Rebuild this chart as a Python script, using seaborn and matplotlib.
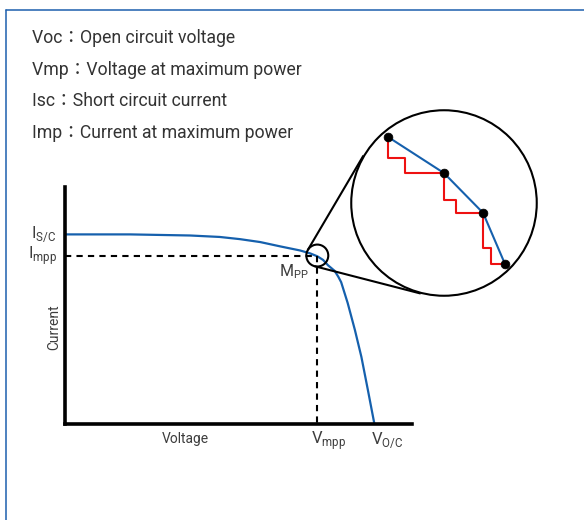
import numpy as np
import matplotlib
matplotlib.use('Agg')
import matplotlib.pyplot as plt
import seaborn as sns
from matplotlib.patches import Circle

# I-V curve of the panel
voltage = [0, 4.5, 8.65, 10.7, 12.1, 13.5, 14.9, 16.25, 16.95, 17.45, 17.85, 18.2,
           18.65, 18.9, 19.1, 19.55, 20.05, 20.5, 20.95, 21.4]
current = [5.20, 5.20, 5.17, 5.13, 5.07, 4.99, 4.87, 4.76, 4.68, 4.60, 4.50, 4.35,
           4.20, 4.04, 3.89, 3.32, 2.58, 1.84, 0.93, 0]
v_mpp, i_mpp = 17.45, 4.62
v_oc, i_sc = 21.4, 5.2

# zoomed view: tracked points and the stepping path between them
zoom_x = [20.1, 50.0, 70.9, 82.6]
zoom_y = [85.3, 66.0, 44.7, 17.4]
step_x = [20.1, 29.1, 50.0, 56.4, 70.9, 75.1, 82.6]
step_y = [85.3, 74.1, 66.0, 51.6, 44.7, 25.9, 17.4]

notes = ["Voc\uff1aOpen circuit voltage",
         "Vmp\uff1aVoltage at maximum power",
         "Isc\uff1aShort circuit current",
         "Imp\uff1aCurrent at maximum power"]

sns.set_theme(style='white')
plt.rcParams['font.family'] = ['Roboto', 'Noto Sans CJK JP', 'DejaVu Sans']
plt.rcParams['mathtext.fontset'] = 'custom'
plt.rcParams['mathtext.rm'] = 'Roboto'

W, H = 584, 520
fig = plt.figure(figsize=(W / 100, H / 100), dpi=100)
fig.patch.set_facecolor('white')

blue = '#1560ad'
grey = '#3d3d3d'

# main I-V axes
ax = fig.add_axes([65 / W, 96 / H, 347 / W, 237 / H])
sns.lineplot(x=voltage, y=current, ax=ax, color=blue, lw=1.6, sort=False, estimator=None,
             solid_joinstyle='round')
ax.set_xlim(0, 24)
ax.set_ylim(0, 6.5)
ax.set_xticks([])
ax.set_yticks([])
for s in ['top', 'right']:
    ax.spines[s].set_visible(False)
for s in ['left', 'bottom']:
    ax.spines[s].set_linewidth(2.6)
    ax.spines[s].set_color('black')
    ax.spines[s].set_capstyle('projecting')
ax.patch.set_visible(False)

dash = (0, (3, 2.5))
ax.plot([0, v_mpp], [i_mpp, i_mpp], color='black', lw=1.5, ls=dash)
ax.plot([v_mpp, v_mpp], [i_mpp, 0], color='black', lw=1.5, ls=dash)
ax.scatter([v_mpp], [i_mpp], s=250, facecolors='none', edgecolors='black',
           linewidths=1.5, zorder=5, clip_on=False)

lab = dict(color=grey, textcoords='offset pixels', annotation_clip=False)
ax.annotate(r'I$_{\mathregular{S/C}}$', xy=(0, i_sc), xytext=(-9, 0), ha='right', va='center', fontsize=12, **lab)
ax.annotate(r'I$_{\mathregular{mpp}}$', xy=(0, i_mpp), xytext=(-8, 0), ha='right', va='center', fontsize=12, **lab)
ax.annotate(r'M$_{\mathregular{PP}}$', xy=(v_mpp, i_mpp), xytext=(-9, -16), ha='right', va='center', fontsize=11.5, **lab)
ax.annotate(r'V$_{\mathregular{mpp}}$', xy=(v_mpp, 0), xytext=(-6, -17), ha='left', va='center', fontsize=12, **lab)
ax.annotate(r'V$_{\mathregular{O/C}}$', xy=(v_oc, 0), xytext=(-3, -17), ha='left', va='center', fontsize=12, **lab)
ax.text(0.346, -0.063, 'Voltage', transform=ax.transAxes, ha='center', va='center', fontsize=10, color=grey)
ax.text(-0.032, 0.41, 'Current', transform=ax.transAxes, ha='center', va='center', rotation=90,
        fontsize=10, color=grey)

# zoom circle
R = 93.5
cx, cy = 444, H - 203
ins = fig.add_axes([(cx - R) / W, (cy - R) / H, 2 * R / W, 2 * R / H])
ins.set_xlim(0, 100)
ins.set_ylim(0, 100)
ins.axis('off')
ins.add_patch(Circle((50, 50), 49.6, facecolor='white', edgecolor='black', lw=1.5, clip_on=False))
sns.lineplot(x=step_x, y=step_y, ax=ins, color='#ee1111', lw=1.5, drawstyle='steps-pre',
             sort=False, estimator=None, zorder=3)
sns.lineplot(x=zoom_x, y=zoom_y, ax=ins, color=blue, lw=1.5, sort=False, estimator=None, zorder=4)
sns.scatterplot(x=zoom_x, y=zoom_y, ax=ins, color='black', s=40, edgecolor='black', zorder=5)

# overlay in pixel units for the connecting tangents and the frame
ov = fig.add_axes([0, 0, 1, 1], zorder=10)
ov.set_xlim(0, W)
ov.set_ylim(0, H)
ov.axis('off')

c1 = np.array(ax.transData.transform((v_mpp, i_mpp)))
c2 = np.array([cx, cy], dtype=float)
r1, r2 = 11.0, R
d = c2 - c1
D = np.hypot(*d)
u = d / D
perp = np.array([-u[1], u[0]])
cos_t = (r2 - r1) / D
sin_t = np.sqrt(1 - cos_t ** 2)
for sg in (1, -1):
    n = cos_t * u + sg * sin_t * perp
    t1 = c1 - r1 * n
    t2 = c2 - r2 * n
    ov.plot([t1[0], t2[0]], [t1[1], t2[1]], color='black', lw=1.5, solid_capstyle='butt')

frame = '#1d5fad'
ov.plot([6, 6], [0, H - 10], color=frame, lw=1.1, clip_on=False)
ov.plot([6, W], [H - 10, H - 10], color=frame, lw=1.1, clip_on=False)

for k, t in enumerate(notes):
    fig.text(32 / W, 1 - (38 + 31.7 * k) / H, t, ha='left', va='center', fontsize=12.7, color='#333333')

fig.savefig('out.png', dpi=100, facecolor='white')
